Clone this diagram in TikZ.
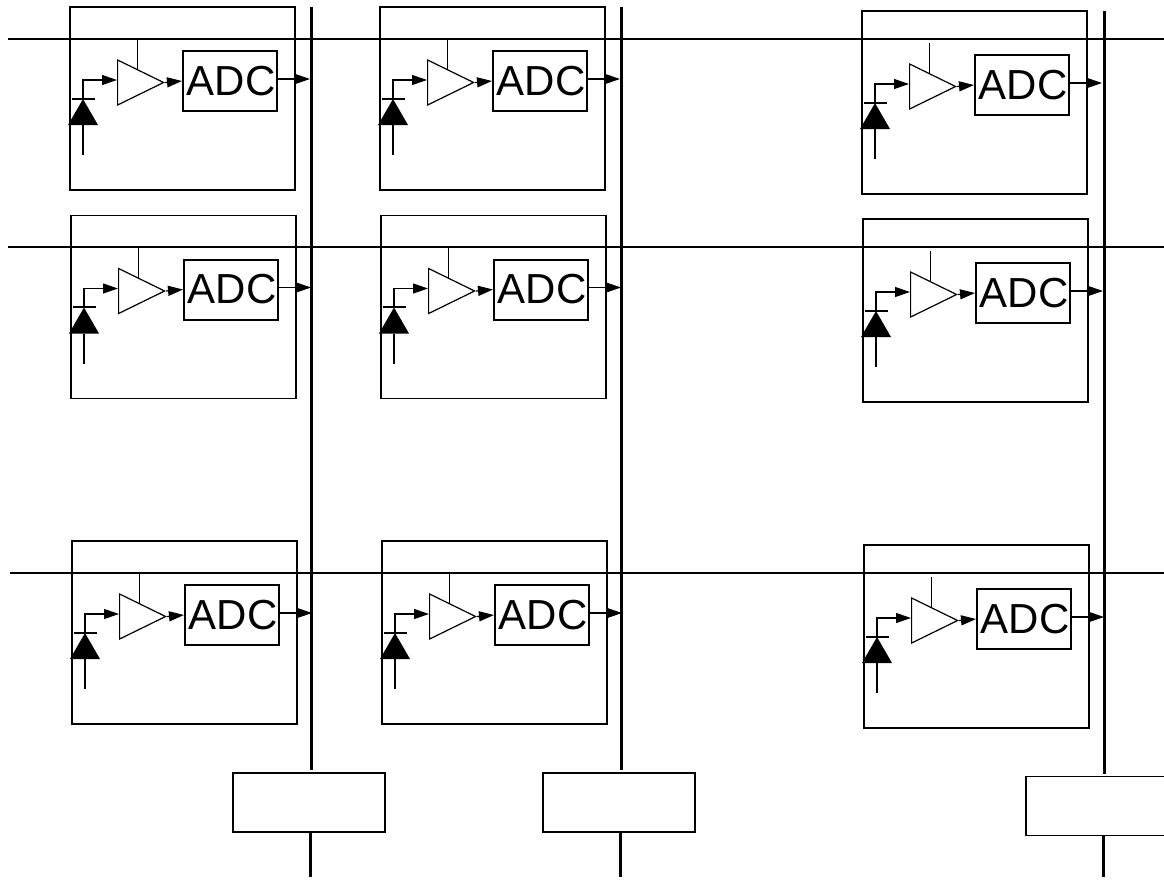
\documentclass[tikz,border=0pt]{standalone}
\usepackage{fontspec}
\setmainfont{Liberation Sans}
\usepackage{tikz}
\usetikzlibrary{arrows.meta,shapes.geometric}

\begin{document}
\begin{tikzpicture}[x=1pt, y=-1pt, >={Triangle[length=15pt,width=10pt]},
	thin wire/.style={line width=1.2pt},
	bus wire/.style={line width=3pt},
	cell box/.style={draw, line width=1.3pt, minimum width=225pt, minimum height=183pt, inner sep=0pt},
	adc box/.style={draw, line width=2pt, minimum width=94pt, minimum height=60pt, inner sep=0pt, font=\fontsize{42}{42}\selectfont},
	amp tri/.style={draw, line width=1.2pt, isosceles triangle, isosceles triangle stretches, shape border rotate=0, minimum width=45pt, minimum height=46pt, inner sep=0pt},
	read box/.style={draw, line width=1.3pt, minimum width=152pt, minimum height=59pt, inner sep=0pt}]
	\clip (0,0) rectangle (1164,879);
	\useasboundingbox (0,0) rectangle (1164,879);
	\foreach \r/\yr/\xl in {1/39/8, 2/247/8, 3/573/10} {
		\coordinate (rowL\r) at (\xl,\yr);
		\coordinate (rowR\r) at (1164,\yr);
		\draw[thin wire] (rowL\r) -- (rowR\r);
	}
	\foreach \n/\xo/\yo in {a1/0/0, a2/1/208.5, a3/2/534, b1/310/0, b2/311/208.5, b3/312/534, c1/792/4, c2/793/212, c3/794/538} {
		\begin{scope}[shift={(\xo,\yo)}]
			\node[cell box] (cell\n) at (182.5,98.5) {};
			\node[adc box] (adc\n) at (230,81) {\hspace{2pt}\raisebox{-1pt}{ADC}};
			\node[amp tri, anchor=lower side] (amp\n) at (117,82.5) {};
			\coordinate (ctrl\n) at (137.5,39);
			\coordinate (ampTop\n) at (137.5,70);
			\coordinate (in\n) at (117,80);
			\coordinate (out\n) at (310,79);
			\coordinate (diodeTop\n) at (83,99);
			\coordinate (diodeBase\n) at (83,125);
			\coordinate (diodeEnd\n) at (83,155);
			\fill (68,125) -- (98,125) -- (diodeTop\n) -- cycle;
			\draw[line width=2pt] (71.5,98.5) -- (95,98.5);
			\draw[thin wire] (ctrl\n) -- (ampTop\n);
			\draw[thin wire, ->] (diodeTop\n) |- (in\n);
			\draw[thin wire] (diodeBase\n) -- (diodeEnd\n);
			\draw[thin wire, ->] (amp\n.apex) -- (adc\n.west);
			\draw[thin wire, ->] (adc\n.east |- out\n) -- (out\n);
		\end{scope}
	}
	\foreach \k/\xb/\xr/\ytop/\yrd/\xs in {1/311.5/309/7/802.5/310, 2/621.5/619/7/802.5/620, 3/1104.5/1102/11/806/1103} {
		\node[read box] (read\k) at (\xr,\yrd) {};
		\coordinate (busTop\k) at (\xb,\ytop);
		\coordinate (busEnd\k) at (\xb,\yrd-32.5);
		\coordinate (stubTop\k) at (\xs,\yrd+29.5);
		\coordinate (stubEnd\k) at (\xs,877);
		\draw[bus wire] (busTop\k) -- (busEnd\k);
		\draw[bus wire] (stubTop\k) -- (stubEnd\k);
	}
\end{tikzpicture}
\end{document}
